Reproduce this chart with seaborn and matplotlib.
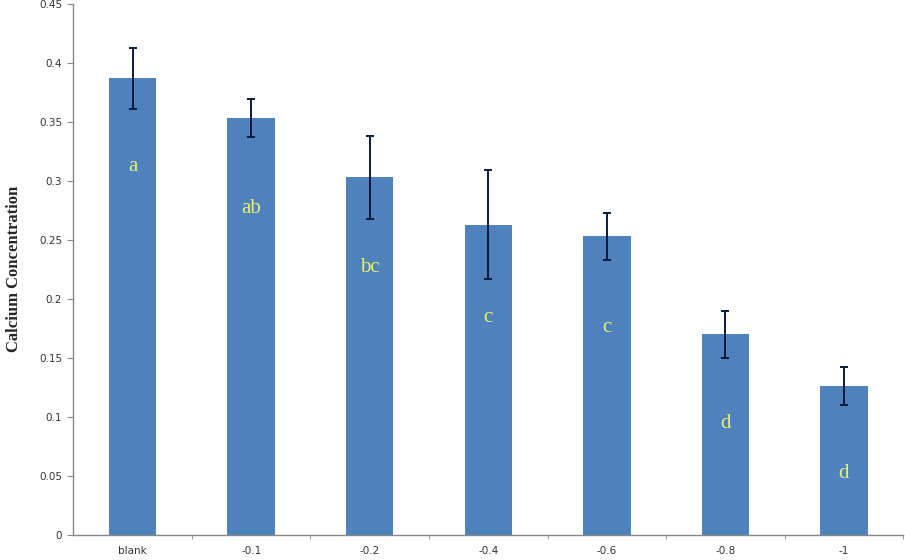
import numpy as np
import pandas as pd
import seaborn as sns
import matplotlib.pyplot as plt
from matplotlib.ticker import MultipleLocator, FixedLocator, FuncFormatter

# valores
tratamientos = ['blank', '-0.1', '-0.2', '-0.4', '-0.6', '-0.8', '-1']
calcio = [0.387, 0.353, 0.303, 0.263, 0.253, 0.170, 0.126]
error = [0.026, 0.016, 0.035, 0.046, 0.020, 0.020, 0.016]
letras = ['a', 'ab', 'bc', 'c', 'c', 'd', 'd']
pos_letras = [0.312, 0.277, 0.227, 0.184, 0.176, 0.094, 0.052]

df = pd.DataFrame({'Tratamiento': tratamientos, 'Calcio': calcio})

sns.set_style('white')
plt.rcParams['font.family'] = ['DejaVu Sans']

fig = plt.figure(figsize=(9.05, 5.6), dpi=100)
ax = fig.add_axes([0.081, 0.045, 0.917, 0.948])

sns.barplot(data=df, x='Tratamiento', y='Calcio', color='#4F81BD', width=0.4,
            saturation=1, linewidth=0, ax=ax)

# barras de error
ax.errorbar(range(len(tratamientos)), calcio, yerr=error, fmt='none',
            ecolor='#0a1a3a', elinewidth=1.4, capsize=3, capthick=1.4)

# letras de significancia
for i, (l, y) in enumerate(zip(letras, pos_letras)):
    ax.text(i, y, l, ha='center', va='center', fontsize=15, color='#e6f26e',
            family='Liberation Serif')

ax.set_xlim(-0.5, len(tratamientos) - 0.5)
ax.set_ylim(0, 0.45)
ax.yaxis.set_major_locator(MultipleLocator(0.05))
ax.yaxis.set_major_formatter(FuncFormatter(lambda v, p: f'{round(v, 2):g}'))
ax.xaxis.set_minor_locator(FixedLocator(np.arange(0.5, len(tratamientos) - 0.4, 1)))

ax.tick_params(axis='x', which='major', length=0, pad=8, labelsize=7.5, labelcolor='#333333')
ax.tick_params(axis='x', which='minor', length=3, color='#888888', direction='out', bottom=True)
ax.tick_params(axis='y', length=4, color='#888888', direction='out', labelsize=7.5,
               labelcolor='#333333', pad=4, left=True)

for s in ['top', 'right']:
    ax.spines[s].set_visible(False)
for s in ['left', 'bottom']:
    ax.spines[s].set_color('#888888')
    ax.spines[s].set_linewidth(1)

ax.set_xlabel('')
ax.set_ylabel('Calcium Concentration', fontsize=12, fontweight='bold',
              family='Liberation Serif', labelpad=12)

fig.savefig('out.png', dpi=100)
